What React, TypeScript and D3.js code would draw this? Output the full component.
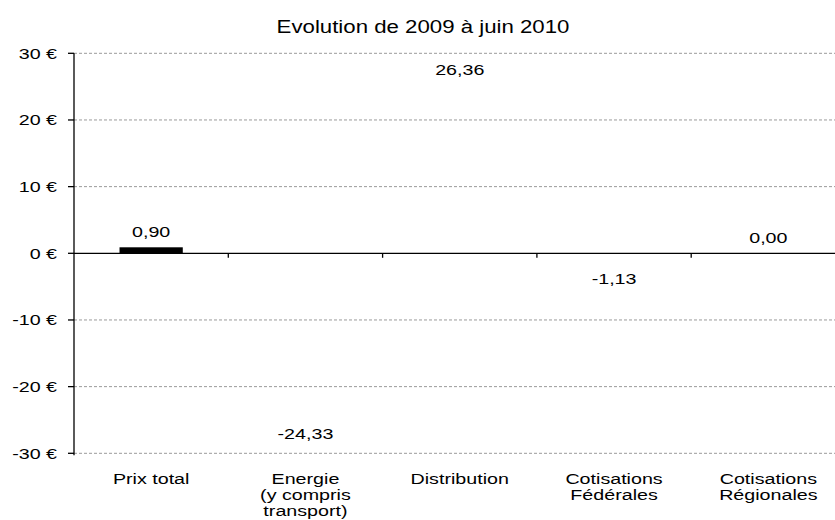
import React from "react";
import * as d3 from "d3";

const title = "Evolution de 2009 à juin 2010";
const categories = [
  "Prix total",
  "Energie\n(y compris\ntransport)",
  "Distribution",
  "Cotisations\nFédérales",
  "Cotisations\nRégionales",
];
const values = [0.9, -24.33, 26.36, -1.13, 0.0];
const visibleBars = [true, false, false, false, false];
const yTicks = [-30, -20, -10, 0, 10, 20, 30];

const W = 835;
const H = 520;
const M = { left: 74, right: -10.5, top: 53.3, bottom: 66.7 };
const SX = 1.27;
const FONT = "'Liberation Sans', Arial, sans-serif";

const loc = d3.formatLocale({
  decimal: ",",
  thousands: " ",
  grouping: [3],
  currency: ["", " €"],
  minus: "-",
});
const fmtVal = loc.format(".2f");
const fmtTick = (v: number) => `${loc.format("d")(v)} €`;

function SText(props: {
  x: number;
  y: number;
  anchor?: string;
  size?: number;
  children: React.ReactNode;
}) {
  const { x, y, anchor = "middle", size = 15.5, children } = props;
  return (
    <text
      transform={`translate(${x},${y}) scale(${SX},1)`}
      textAnchor={anchor}
      fontFamily={FONT}
      fontSize={size}
      fill="#000"
    >
      {children}
    </text>
  );
}

export default function App() {
  const x = d3
    .scaleBand<string>()
    .domain(categories)
    .range([M.left, W - M.right])
    .padding(0);
  const y = d3
    .scaleLinear()
    .domain([-30, 30])
    .range([H - M.bottom, M.top]);
  const bw = x.bandwidth() * 0.41;
  const x0 = M.left;
  const x1 = W - M.right;

  return (
    <svg
      width={W}
      height={H}
      style={{ position: "absolute", left: 0, top: 0, background: "#fff" }}
    >
      <rect x={0} y={0} width={W} height={H} fill="#fff" />
      {/* title */}
      <SText x={423} y={33} size={17.5}>
        {title}
      </SText>

      {/* gridlines */}
      {yTicks
        .filter((t) => t !== 0)
        .map((t) => (
          <line
            key={"g" + t}
            x1={x0}
            x2={x1}
            y1={y(t)}
            y2={y(t)}
            stroke="#9a9a9a"
            strokeWidth={1}
            strokeDasharray="3,2"
          />
        ))}

      {/* bars */}
      {values.map((v, i) => {
        const cx = (x(categories[i]) as number) + x.bandwidth() / 2;
        const top = y(Math.max(0, v));
        const h = Math.abs(y(v) - y(0));
        return (
          <rect
            key={"b" + i}
            x={cx - bw / 2}
            y={top}
            width={bw}
            height={h}
            fill={visibleBars[i] ? "#000" : "none"}
          />
        );
      })}

      {/* y axis */}
      <line x1={x0} x2={x0} y1={y(30)} y2={y(-30) + 2} stroke="#000" strokeWidth={1.3} />
      {yTicks.map((t) => (
        <g key={"yt" + t}>
          <line x1={x0 - 6} x2={x0} y1={y(t)} y2={y(t)} stroke="#000" strokeWidth={1.3} />
          <SText x={57} y={y(t) + 5.4} anchor="end">
            {fmtTick(t)}
          </SText>
        </g>
      ))}

      {/* zero axis */}
      <line x1={x0} x2={x1} y1={y(0)} y2={y(0)} stroke="#000" strokeWidth={1.3} />
      {categories.slice(1).map((c) => (
        <line
          key={"xt" + c}
          x1={x(c) as number}
          x2={x(c) as number}
          y1={y(0)}
          y2={y(0) + 4.5}
          stroke="#000"
          strokeWidth={1.3}
        />
      ))}

      {/* category labels */}
      {categories.map((c) => {
        const cx = (x(c) as number) + x.bandwidth() / 2;
        return c.split("\n").map((line, j) => (
          <SText key={"cl" + c + j} x={cx} y={484 + j * 16}>
            {line}
          </SText>
        ));
      })}

      {/* value labels (kept inside the plot area) */}
      {values.map((v, i) => {
        const cx = (x(categories[i]) as number) + x.bandwidth() / 2;
        const ly =
          v >= 0
            ? Math.max(y(v) - 10.5, M.top + 21.7)
            : Math.min(y(v) + 23.5, H - M.bottom - 6);
        return (
          <SText key={"vl" + i} x={cx} y={ly}>
            {fmtVal(v)}
          </SText>
        );
      })}
    </svg>
  );
}
